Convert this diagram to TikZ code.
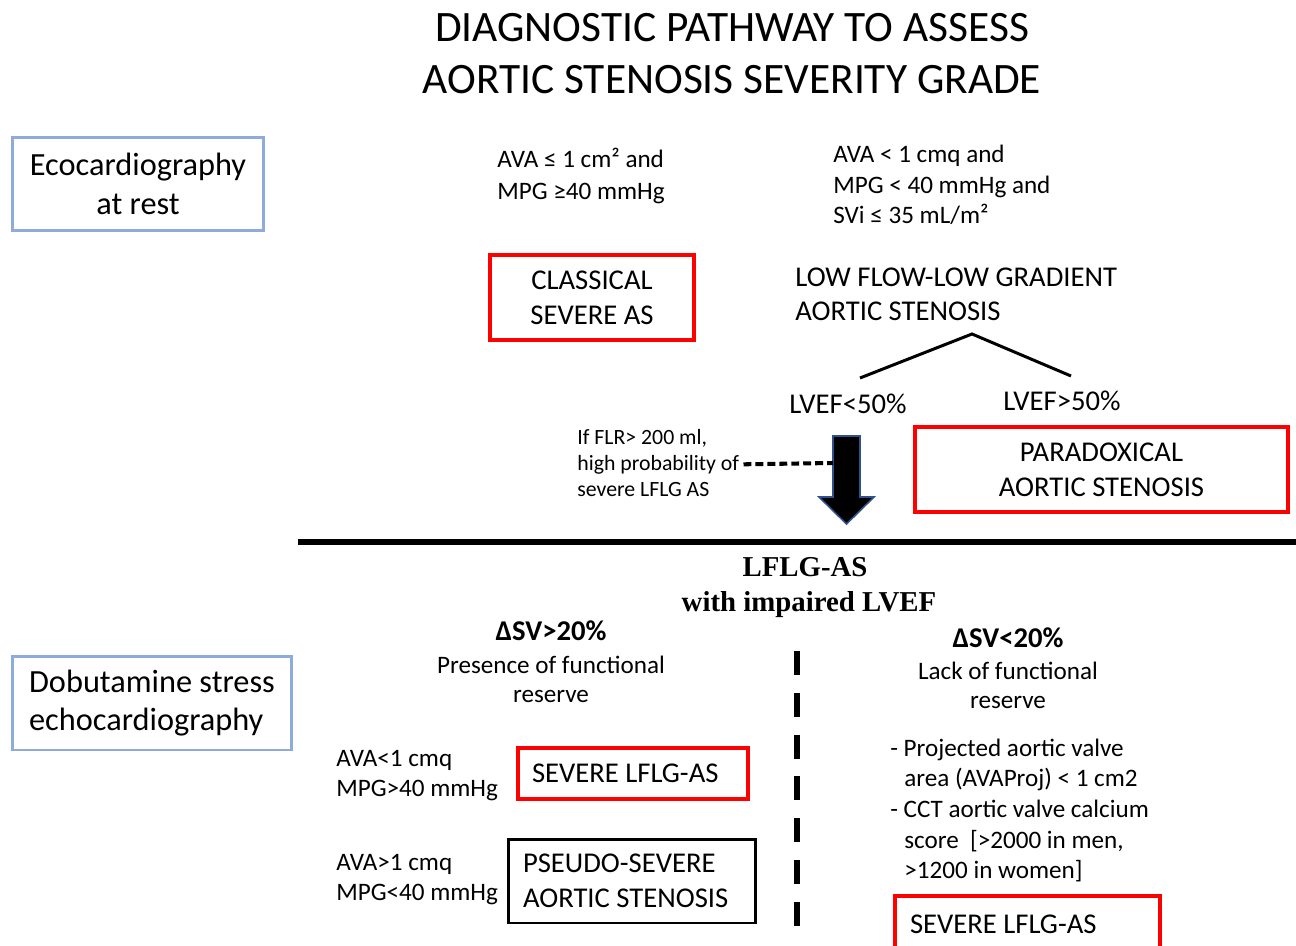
\documentclass[tikz,border=0pt]{standalone}
\usepackage{fontspec}
\setmainfont{Carlito}
\newfontfamily\serifbold{Liberation Serif}[BoldFont={Liberation Serif Bold}]
\usetikzlibrary{positioning}
\definecolor{boxred}{RGB}{255,0,0}
\definecolor{boxblue}{RGB}{143,170,220}
\definecolor{arrowblue}{RGB}{47,82,143}
\newcommand{\titlesize}{\fontsize{24.7}{29.5}\selectfont}
\newcommand{\bigsize}{\fontsize{18.4}{22.6}\selectfont}
\newcommand{\midsize}{\fontsize{16.3}{19.85}\selectfont}
\newcommand{\bodysize}{\fontsize{14.3}{17.4}\selectfont}
\newcommand{\notesize}{\fontsize{12.4}{14.8}\selectfont}
\newcommand{\natspace}{\spaceskip=0pt\xspaceskip=0pt}

\begin{document}
\begin{tikzpicture}[x=0.02cm,y=-0.02cm,
  redbox/.style={draw=boxred,line width=2.3pt,inner sep=0pt,font=\midsize},
  bluebox/.style={draw=boxblue,line width=1.7pt,inner sep=0pt,font=\bigsize},
  blackbox/.style={draw=black,line width=1.7pt,inner sep=0pt,font=\midsize},
  line/.style={inner sep=0pt,anchor=base west},
  cline/.style={inner sep=0pt,anchor=base},
  branch/.style={line width=1.7pt},
  flrdash/.style={line width=2.3pt,dash pattern=on 4.5pt off 2.3pt},
  splitdash/.style={line width=3.4pt,dash pattern=on 13.6pt off 10.2pt}]
\useasboundingbox (0,0) rectangle (1296,946);

% title
\node[cline,font=\titlesize] (title1) at (732,42) {DIAGNOSTIC PATHWAY TO ASSESS};
\node[cline,font=\titlesize] (title2) at (732,94) {AORTIC STENOSIS SEVERITY GRADE};

% left labels
\node[bluebox,minimum width=5.04cm,minimum height=1.88cm,align=center] (rest) at (138,184)
  {Ecocardiography\\[-0.5pt]at rest};
\node[bluebox,minimum width=5.6cm,minimum height=1.88cm,align=left] (dse) at (152,703)
  {Dobutamine stress\\[-0.5pt]echocardiography};

% echo at rest
\node[line,font=\bodysize] (ava1) at (497,168) {AVA ≤ 1 cm² and};
\node[line,font=\bodysize] (mpg1) at (497,199) {MPG ≥40 mmHg};
\node[line,font=\bodysize] (ava2) at (833,163) {AVA < 1 cmq and};
\node[line,font=\bodysize] (mpg2) at (833,194) {MPG < 40 mmHg and};
\node[line,font=\bodysize] (svi2) at (833,224) {SVi ≤ 35 mL/m²};
\node[redbox,minimum width=4.08cm,minimum height=1.7cm,align=center] (classic) at (592,297.5)
  {CLASSICAL\\SEVERE AS};
\node[line,font=\midsize] (lflg1) at (795,286) {LOW FLOW-LOW GRADIENT};
\node[line,font=\midsize] (lflg2) at (795,320) {AORTIC STENOSIS};

\coordinate (split) at (972,334);
\coordinate (splitl) at (860,378);
\coordinate (splitr) at (1071,376);
\draw[branch] (splitl) -- (split) -- (splitr);
\node[cline,font=\midsize] (lowef) at (848,413) {LVEF<50\%};
\node[cline,font=\midsize] (highef) at (1062,410) {LVEF>50\%};
\node[redbox,minimum width=7.46cm,minimum height=1.7cm,align=center] (parad) at (1101.5,469.5)
  {PARADOXICAL\\AORTIC STENOSIS};

\node[line,font=\notesize] (flr1) at (577,444) {If FLR> 200 ml,};
\node[line,font=\notesize] (flr2) at (577,470) {high probability of};
\node[line,font=\notesize] (flr3) at (577,496) {severe LFLG AS};

% down arrow
\coordinate (shaftw) at (833,463);
\draw[arrowblue,fill=black,line width=0.9pt,line join=miter]
  (833,436) -- (860,436) -- (860,497) -- (874,497) -- (846.5,524)
  -- (819,497) -- (833,497) -- cycle;
\draw[flrdash] ([xshift=0.08cm]flr2.east) -- (shaftw);

\draw[line width=3.4pt] (298,542) -- (1296,542);

% dobutamine stress
\node[cline,font=\serifbold\bfseries\fontsize{16.4}{19}\selectfont] (dse1) at (805,576) {LFLG-AS};
\node[cline,font=\serifbold\bfseries\fontsize{16.4}{19}\selectfont] (dse2) at (809,611) {with impaired LVEF};

\node[cline,font=\bfseries\midsize] (up) at (551,640) {ΔSV>20\%};
\node[cline,font=\bodysize] (up1) at (551,673) {Presence of functional};
\node[cline,font=\bodysize] (up2) at (551,702) {reserve};
\node[cline,font=\bfseries\midsize] (down) at (1008,647) {ΔSV<20\%};
\node[cline,font=\bodysize] (down1) at (1008,679) {Lack of functional};
\node[cline,font=\bodysize] (down2) at (1008,708) {reserve};

\coordinate (divtop) at (797,651);
\coordinate (divbot) at (797,927);
\draw[splitdash] (divtop) -- (divbot);

\node[line,font=\bodysize] (ava3) at (336,766) {AVA<1 cmq};
\node[line,font=\bodysize] (mpg3) at (336,796) {MPG>40 mmHg};
\node[redbox,minimum height=1.02cm,text width=4.04cm,inner xsep=0.28cm,align=left] (sev1) at (633,773.5)
  {\natspace SEVERE LFLG-AS};
\node[line,font=\bodysize] (ava4) at (336,870) {AVA>1 cmq};
\node[line,font=\bodysize] (mpg4) at (336,900) {MPG<40 mmHg};
\node[blackbox,minimum height=1.68cm,text width=4.36cm,inner xsep=0.3cm,align=left] (pseudo) at (632,881)
  {\natspace PSEUDO-SEVERE\\\natspace AORTIC STENOSIS};

\node[line,font=\bodysize] (proj1) at (890,756) {- Projected aortic valve};
\node[line,font=\bodysize] (proj2) at (904,786) {area (AVAProj) < 1 cm2};
\node[line,font=\bodysize] (cct1) at (890,817) {- CCT aortic valve calcium};
\node[line,font=\bodysize] (cct2) at (904,848) {score~ [>2000 in men,};
\node[line,font=\bodysize] (cct3) at (904,878) {>1200 in women]};
\node[redbox,minimum height=1.12cm,text width=4.7cm,inner xsep=0.3cm,align=left] (sev2) at (1027.5,924)
  {\natspace SEVERE LFLG-AS};
\end{tikzpicture}
\end{document}
